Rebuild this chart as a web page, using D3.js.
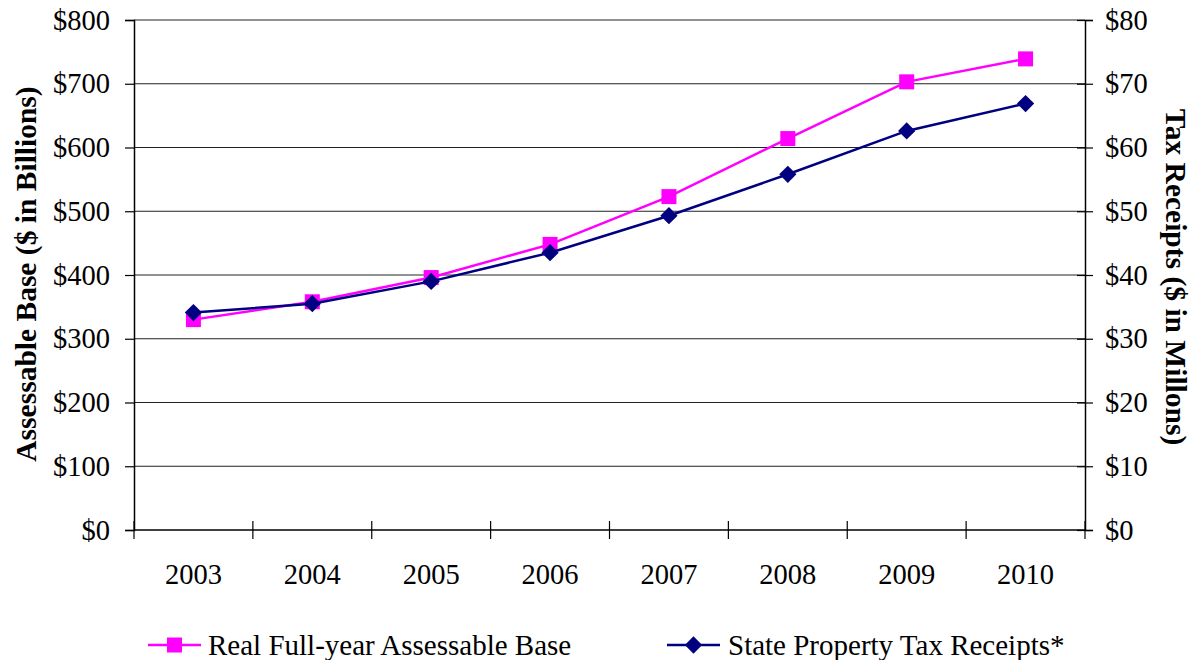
<!DOCTYPE html>
<html>
<head>
<meta charset="utf-8">
<script src="https://cdn.jsdelivr.net/npm/d3@7"></script>
<style>
  html, body { margin: 0; padding: 0; background: #fff; }
  svg { display: block; font-family: "Liberation Serif", "Times New Roman", serif; }
</style>
</head>
<body>
<svg id="chart" width="1194" height="660"></svg>
<script>
// Years on the category axis
const years = ["2003", "2004", "2005", "2006", "2007", "2008", "2009", "2010"];
// Real full-year assessable base, $ billions (left axis)
const assessableBase = [330, 358, 396, 448, 523, 614, 703, 739];
// State property tax receipts, $ millions (right axis)
const taxReceipts = [34.1, 35.5, 39.0, 43.5, 49.3, 55.8, 62.6, 66.9];
// Axis tick values
const leftTicks = [0, 100, 200, 300, 400, 500, 600, 700, 800];
const rightTicks = [0, 10, 20, 30, 40, 50, 60, 70, 80];
const seriesNames = ["Real Full-year Assessable Base", "State Property Tax Receipts*"];

const PINK = "#ff00ff", NAVY = "#000080";
const FONT = 28.5, TITLE_FONT = 29.5;
const margin = { left: 134, right: 1085, top: 20, bottom: 530 };

const svg = d3.select("#chart");

const x = d3.scaleBand().domain(years).range([margin.left, margin.right]).padding(0);
const yL = d3.scaleLinear().domain([0, 800]).range([margin.bottom, margin.top]);
const yR = d3.scaleLinear().domain([0, 80]).range([margin.bottom, margin.top]);

// Horizontal gridlines
svg.append("g").selectAll("line").data(leftTicks.filter(d => d > 0)).join("line")
  .attr("x1", margin.left).attr("x2", margin.right)
  .attr("y1", d => yL(d)).attr("y2", d => yL(d))
  .attr("stroke", "#222").attr("stroke-width", 1);

// Left axis
const gL = svg.append("g").attr("transform", `translate(${margin.left},0)`)
  .call(d3.axisLeft(yL).tickValues(leftTicks).tickFormat(d => "$" + d).tickSize(9).tickPadding(15));
// Right axis
const gR = svg.append("g").attr("transform", `translate(${margin.right},0)`)
  .call(d3.axisRight(yR).tickValues(rightTicks).tickFormat(d => "$" + d).tickSize(8).tickPadding(12));
gR.selectAll(".tick line").attr("x1", -8);

// Bottom axis with ticks between categories
const gB = svg.append("g").attr("transform", `translate(0,${margin.bottom})`)
  .call(d3.axisBottom(x).tickSize(0).tickPadding(34));
gB.selectAll(".boundary").data(d3.range(years.length + 1)).join("line")
  .attr("class", "boundary")
  .attr("x1", i => margin.left + i * x.step()).attr("x2", i => margin.left + i * x.step())
  .attr("y1", -9).attr("y2", 9)
  .attr("stroke", "#000").attr("stroke-width", 1.2);

[gL, gR, gB].forEach(g => {
  g.select(".domain").attr("stroke", "#000").attr("stroke-width", 1.5);
  g.selectAll(".tick line").attr("stroke", "#000").attr("stroke-width", 1.2);
  g.selectAll("text").attr("font-size", FONT).attr("fill", "#000")
    .attr("font-family", "'Liberation Serif', 'Times New Roman', serif");
});
gB.select(".domain").attr("d", `M${margin.left},0H${margin.right}`);

// Axis titles
svg.append("text")
  .attr("transform", `translate(36,274) rotate(-90)`)
  .attr("text-anchor", "middle").attr("font-size", TITLE_FONT).attr("font-weight", "bold")
  .text("Assessable Base ($ in Billions)");
svg.append("text")
  .attr("transform", `translate(1166,277) rotate(90)`)
  .attr("text-anchor", "middle").attr("font-size", TITLE_FONT).attr("font-weight", "bold")
  .text("Tax Receipts ($ in Millons)");

const cx = d => x(d) + x.bandwidth() / 2;
const square = d3.symbol().type(d3.symbolSquare).size(225);
const diamond = d3.symbol().type(d3.symbolDiamond2).size(190);

// Assessable base line
svg.append("path").datum(years.map((yr, i) => [cx(yr), yL(assessableBase[i])]))
  .attr("d", d3.line()).attr("fill", "none").attr("stroke", PINK).attr("stroke-width", 2.5);
svg.append("g").selectAll("path").data(years).join("path")
  .attr("d", square)
  .attr("transform", (yr, i) => `translate(${cx(yr)},${yL(assessableBase[i])})`)
  .attr("fill", PINK);

// Tax receipts line
svg.append("path").datum(years.map((yr, i) => [cx(yr), yR(taxReceipts[i])]))
  .attr("d", d3.line()).attr("fill", "none").attr("stroke", NAVY).attr("stroke-width", 2.5);
svg.append("g").selectAll("path").data(years).join("path")
  .attr("d", diamond)
  .attr("transform", (yr, i) => `translate(${cx(yr)},${yR(taxReceipts[i])})`)
  .attr("fill", NAVY);

// Legend
const legend = svg.append("g").attr("transform", "translate(0,645)");
const items = [
  { name: seriesNames[0], color: PINK, sym: square, x0: 148, tx: 208 },
  { name: seriesNames[1], color: NAVY, sym: diamond, x0: 667, tx: 728 }
];
items.forEach(it => {
  legend.append("line").attr("x1", it.x0).attr("x2", it.x0 + 53).attr("y1", 0).attr("y2", 0)
    .attr("stroke", it.color).attr("stroke-width", 2.5);
  legend.append("path").attr("d", it.sym).attr("transform", `translate(${it.x0 + 26.5},0)`).attr("fill", it.color);
  legend.append("text").attr("x", it.tx).attr("y", 10).attr("font-size", 29).text(it.name);
});
</script>
</body>
</html>
